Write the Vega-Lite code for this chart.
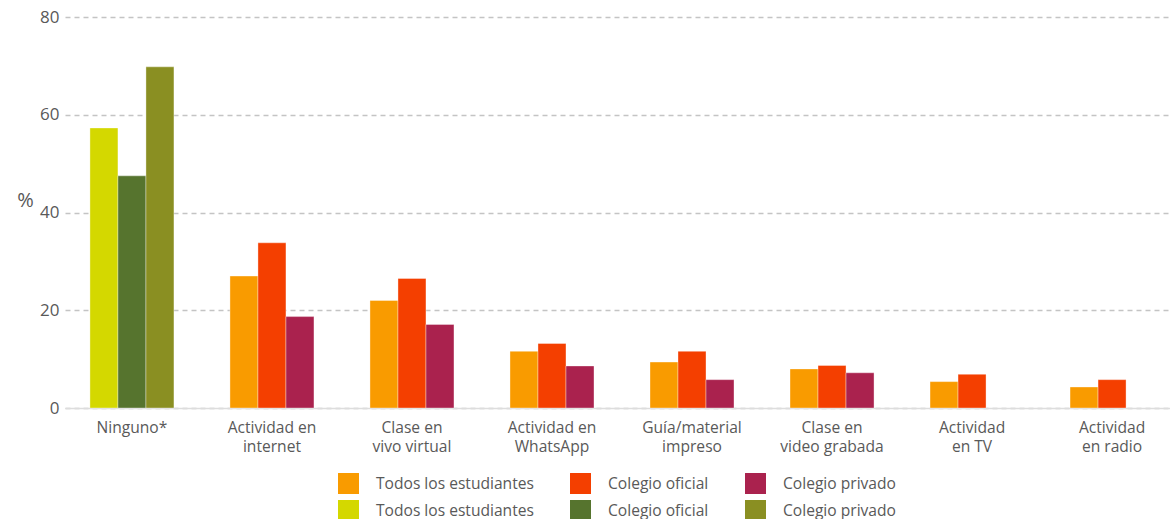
{
  "$schema": "https://vega.github.io/schema/vega-lite/v6.json",
  "autosize": {"type": "none"},
  "padding": {"left": 65, "top": 17, "right": 0, "bottom": 111},
  "width": 1105,
  "height": 391,
  "background": "white",
  "config": {
    "view": {"stroke": null},
    "font": "Open Sans",
    "axis": {"labelFont": "Open Sans", "labelColor": "#595959", "titleColor": "#595959"},
    "legend": {"labelFont": "Open Sans"}
  },
  "data": {
    "values": [
      {"actividad": "Ninguno*", "grupo": "Todos", "serie": "Todos los estudiantes*", "valor": 57.3},
      {"actividad": "Ninguno*", "grupo": "Oficial", "serie": "Colegio oficial*", "valor": 47.5},
      {"actividad": "Ninguno*", "grupo": "Privado", "serie": "Colegio privado*", "valor": 69.8},
      {"actividad": "Actividad en\ninternet", "grupo": "Todos", "serie": "Todos los estudiantes", "valor": 27.0},
      {"actividad": "Actividad en\ninternet", "grupo": "Oficial", "serie": "Colegio oficial", "valor": 33.8},
      {"actividad": "Actividad en\ninternet", "grupo": "Privado", "serie": "Colegio privado", "valor": 18.7},
      {"actividad": "Clase en\nvivo virtual", "grupo": "Todos", "serie": "Todos los estudiantes", "valor": 22.0},
      {"actividad": "Clase en\nvivo virtual", "grupo": "Oficial", "serie": "Colegio oficial", "valor": 26.5},
      {"actividad": "Clase en\nvivo virtual", "grupo": "Privado", "serie": "Colegio privado", "valor": 17.1},
      {"actividad": "Actividad en\nWhatsApp", "grupo": "Todos", "serie": "Todos los estudiantes", "valor": 11.6},
      {"actividad": "Actividad en\nWhatsApp", "grupo": "Oficial", "serie": "Colegio oficial", "valor": 13.2},
      {"actividad": "Actividad en\nWhatsApp", "grupo": "Privado", "serie": "Colegio privado", "valor": 8.6},
      {"actividad": "Guía/material\nimpreso", "grupo": "Todos", "serie": "Todos los estudiantes", "valor": 9.4},
      {"actividad": "Guía/material\nimpreso", "grupo": "Oficial", "serie": "Colegio oficial", "valor": 11.6},
      {"actividad": "Guía/material\nimpreso", "grupo": "Privado", "serie": "Colegio privado", "valor": 5.8},
      {"actividad": "Clase en\nvideo grabada", "grupo": "Todos", "serie": "Todos los estudiantes", "valor": 8.0},
      {"actividad": "Clase en\nvideo grabada", "grupo": "Oficial", "serie": "Colegio oficial", "valor": 8.7},
      {"actividad": "Clase en\nvideo grabada", "grupo": "Privado", "serie": "Colegio privado", "valor": 7.2},
      {"actividad": "Actividad\nen TV", "grupo": "Todos", "serie": "Todos los estudiantes", "valor": 5.4},
      {"actividad": "Actividad\nen TV", "grupo": "Oficial", "serie": "Colegio oficial", "valor": 6.9},
      {"actividad": "Actividad\nen radio", "grupo": "Todos", "serie": "Todos los estudiantes", "valor": 4.3},
      {"actividad": "Actividad\nen radio", "grupo": "Oficial", "serie": "Colegio oficial", "valor": 5.8}
    ]
  },
  "mark": {"type": "bar", "stroke": "white", "strokeWidth": 0.6, "strokeOpacity": 0.6},
  "encoding": {
    "x": {
      "field": "actividad",
      "type": "nominal",
      "sort": ["Ninguno*", "Actividad en\ninternet", "Clase en\nvivo virtual", "Actividad en\nWhatsApp", "Guía/material\nimpreso", "Clase en\nvideo grabada", "Actividad\nen TV", "Actividad\nen radio"],
      "scale": {"paddingInner": 0.4, "paddingOuter": 0.146, "align": 0.61},
      "axis": {
        "title": null,
        "labelAngle": 0,
        "ticks": false,
        "domainColor": "#dddddd",
        "domainWidth": 1.5,
        "labelFontSize": 15.6,
        "labelPadding": 12,
        "labelLineHeight": 19,
        "labelExpr": "split(datum.label, '\\n')"
      }
    },
    "xOffset": {
      "field": "grupo",
      "type": "nominal",
      "scale": {"domain": ["Todos", "Oficial", "Privado"], "paddingInner": 0, "paddingOuter": 0}
    },
    "y": {
      "field": "valor",
      "type": "quantitative",
      "scale": {"domain": [0, 80], "nice": false},
      "axis": {
        "values": [0, 20, 40, 60, 80],
        "title": "%",
        "titleAngle": 0,
        "titleFontSize": 20,
        "titleFontWeight": "normal",
        "titleX": -40,
        "titleY": 183,
        "titleBaseline": "middle",
        "titleAlign": "center",
        "domain": false,
        "ticks": false,
        "labelFontSize": 17,
        "labelPadding": 6,
        "gridColor": "#c4c4c4",
        "gridDash": [5, 4],
        "gridWidth": 1.3
      }
    },
    "color": {
      "field": "serie",
      "type": "nominal",
      "scale": {
        "domain": ["Todos los estudiantes", "Colegio oficial", "Colegio privado", "Todos los estudiantes*", "Colegio oficial*", "Colegio privado*"],
        "range": ["#F99B00", "#F43F00", "#AA224E", "#D4D800", "#56742E", "#8A8F22"]
      },
      "legend": {
        "title": null,
        "orient": "none",
        "legendX": 273,
        "legendY": 456,
        "direction": "horizontal",
        "columns": 3,
        "symbolType": "square",
        "symbolSize": 440,
        "symbolStrokeWidth": 0,
        "labelFontSize": 15.6,
        "labelColor": "#595959",
        "labelOffset": 17,
        "columnPadding": 36,
        "rowPadding": 6,
        "labelExpr": "replace(datum.label, '*', '')"
      }
    }
  }
}
